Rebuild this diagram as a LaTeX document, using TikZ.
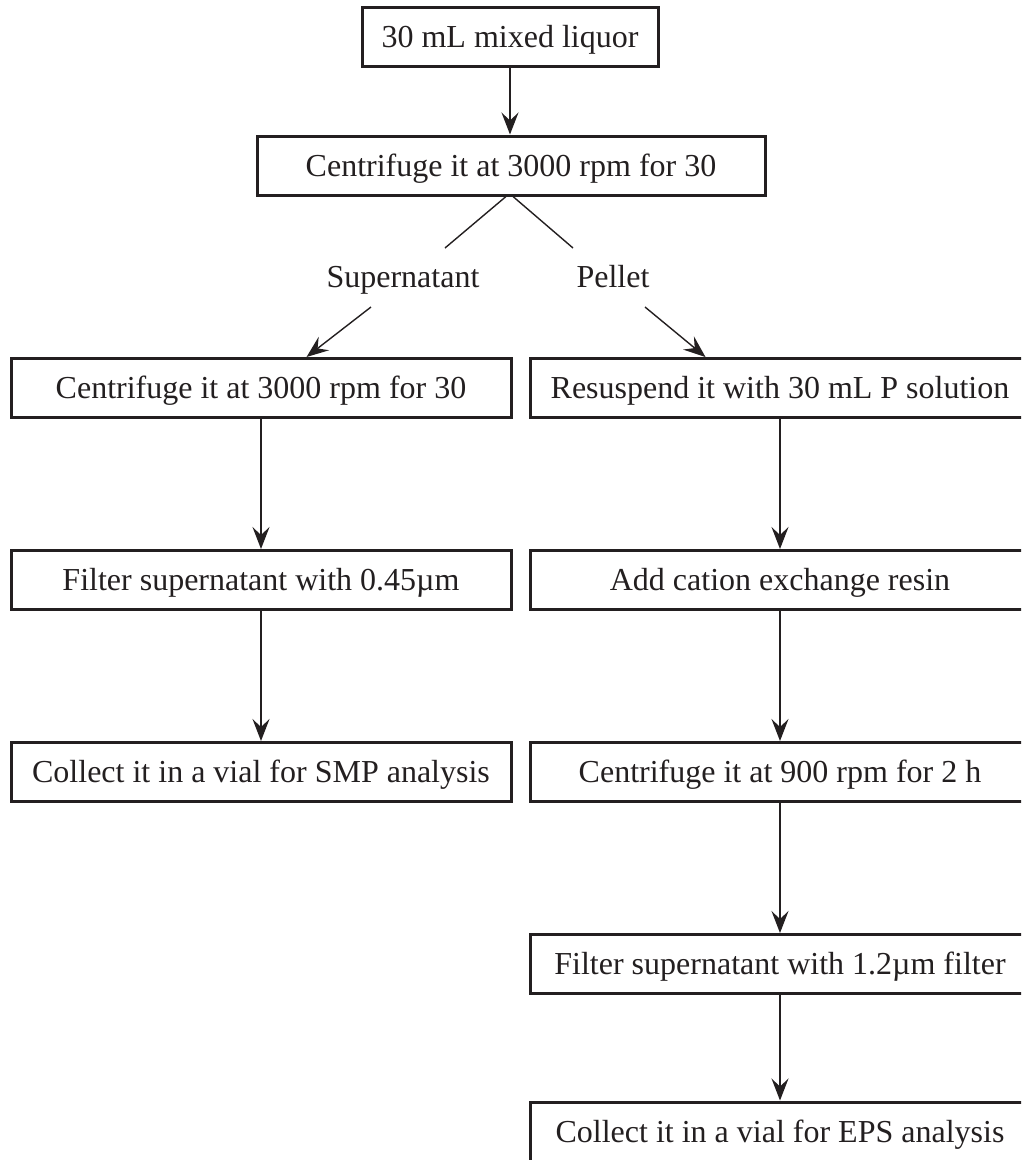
\documentclass[tikz,border=0pt]{standalone}
\usepackage{fontspec}
\setmainfont{Liberation Serif}
\usetikzlibrary{arrows.meta}
\definecolor{ink}{HTML}{231F20}
\begin{document}
\begin{tikzpicture}[x=1pt,y=-1pt,
  txt/.style={text=ink, font=\fontsize{32}{38}\selectfont},
  stepbox/.style={txt, draw=ink, line width=3pt, minimum height=59pt,
    inner xsep=0pt, inner ysep=0pt, text height=21pt, text depth=0pt},
  lbl/.style={txt, inner sep=0pt, anchor=base},
  link/.style={draw=ink, line width=1.4pt},
  arr/.style={link, -{Stealth[length=22pt,width=17pt,inset=8pt]}}]
\useasboundingbox (0,0) rectangle (1021,1160);
\clip (0,0) rectangle (1021,1160);

% top of the procedure
\node[stepbox, minimum width=296pt] (mix) at (510,37) {30 mL mixed liquor};
\node[stepbox, minimum width=508pt] (cen1) at (511,165.5) {Centrifuge it at 3000 rpm for 30};

% split into supernatant and pellet
\node[lbl] (sup) at (403,287) {Supernatant};
\node[lbl] (pel) at (613,287) {Pellet};
\coordinate (supIn) at (445,248);
\coordinate (pelIn) at (573,248);
\coordinate (supOut) at (371,307);
\coordinate (pelOut) at (645,307);

% SMP branch
\node[stepbox, minimum width=500pt] (cenS) at (261,388) {Centrifuge it at 3000 rpm for 30};
\node[stepbox, minimum width=500pt] (filS) at (261,580) {Filter supernatant with 0.45µm};
\node[stepbox, minimum width=500pt] (colS) at (261,772) {Collect it in a vial for SMP analysis};

% EPS branch
\node[stepbox, minimum width=500pt] (res) at (780,388) {Resuspend it with 30 mL P solution};
\node[stepbox, minimum width=500pt] (cat) at (780,580) {Add cation exchange resin};
\node[stepbox, minimum width=500pt] (cenE) at (780,772) {Centrifuge it at 900 rpm for 2 h};
\node[stepbox, minimum width=500pt] (filE) at (780,964) {Filter supernatant with 1.2µm filter};
\node[stepbox, minimum width=500pt] (colE) at (780,1131.5) {Collect it in a vial for EPS analysis};

% connectors
\draw[arr] (mix.south) -- (mix.south |- cen1.north);
\draw[link] ([xshift=-5pt]cen1.south) -- (supIn);
\draw[link] ([xshift=2pt]cen1.south) -- (pelIn);
\draw[arr] (supOut) -- ([xshift=297pt]cenS.north west);
\draw[arr] (pelOut) -- ([xshift=177pt]res.north west);

\draw[arr] (cenS.south) -- (filS.north);
\draw[arr] (filS.south) -- (colS.north);

\draw[arr] (res.south) -- (cat.north);
\draw[arr] (cat.south) -- (cenE.north);
\draw[arr] (cenE.south) -- (filE.north);
\draw[arr] (filE.south) -- (colE.north);
\end{tikzpicture}
\end{document}
